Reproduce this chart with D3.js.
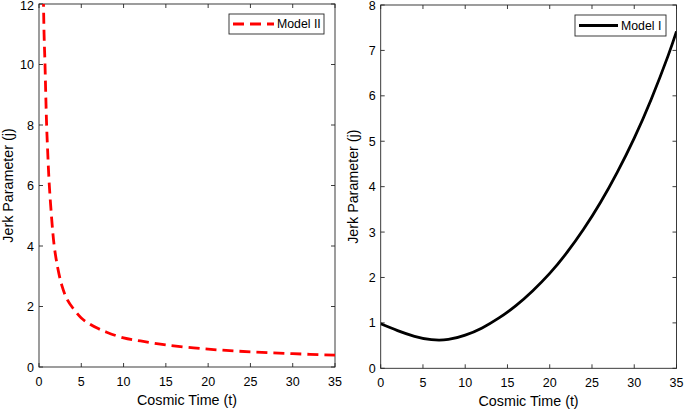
<!DOCTYPE html>
<html>
<head>
<meta charset="utf-8">
<script src="https://cdn.jsdelivr.net/npm/d3@7"></script>
<style>
  html, body { margin: 0; padding: 0; background: #fff; }
  svg { display: block; }
  text { font-family: "Liberation Sans", Arial, Helvetica, sans-serif; fill: #000; }
</style>
</head>
<body>
<svg id="chart" width="685" height="411"></svg>
<script>
// ---- Data ----
const modelIITime = [0.45, 0.6, 0.7, 0.8, 0.9, 1.0, 1.2, 1.5, 1.8, 2.2, 2.7, 3.3, 4, 5, 6, 7, 8, 10, 12, 15, 20, 25, 30, 35];
const modelIIJerk = [13.4, 11.0, 10.1, 9.0, 8.0, 7.3, 6.1, 4.9, 4.0, 3.3, 2.7, 2.25, 1.95, 1.62, 1.42, 1.27, 1.15, 0.96, 0.86, 0.73, 0.59, 0.50, 0.44, 0.39];

const modelITime = [0, 2, 4, 6, 8, 10, 12, 14, 16, 18, 20, 22, 24, 26, 28, 30, 32, 34, 35];
const modelIJerk = [0.98, 0.83, 0.705, 0.63, 0.635, 0.73, 0.89, 1.11, 1.38, 1.71, 2.09, 2.54, 3.06, 3.65, 4.32, 5.07, 5.92, 6.88, 7.42];

const xTicks = [0, 5, 10, 15, 20, 25, 30, 35];
const yTicksLeft = [0, 2, 4, 6, 8, 10, 12];
const yTicksRight = [0, 1, 2, 3, 4, 5, 6, 7, 8];

const xLabel = "Cosmic Time (t)";
const yLabel = "Jerk Parameter (j)";
const legendLeft = "Model II";
const legendRight = "Model I";

// ---- Drawing ----
const svg = d3.select("#chart");
const axisColor = "#262626";

function panel(cfg) {
  const x = d3.scaleLinear().domain([0, 35]).range([cfg.x0, cfg.x1]);
  const y = d3.scaleLinear().domain([0, cfg.yMax]).range([cfg.y0, cfg.y1]);
  const g = svg.append("g");
  const tl = 4;

  const clipId = "clip" + cfg.id;
  svg.append("defs").append("clipPath").attr("id", clipId)
    .append("rect").attr("x", cfg.x0).attr("y", cfg.y1)
    .attr("width", cfg.x1 - cfg.x0).attr("height", cfg.y0 - cfg.y1);

  g.append("rect").attr("x", cfg.x0).attr("y", cfg.y1)
    .attr("width", cfg.x1 - cfg.x0).attr("height", cfg.y0 - cfg.y1)
    .attr("fill", "none").attr("stroke", axisColor).attr("stroke-width", 0.9);

  xTicks.forEach(t => {
    const px = x(t);
    g.append("line").attr("x1", px).attr("x2", px).attr("y1", cfg.y0).attr("y2", cfg.y0 - tl)
      .attr("stroke", axisColor).attr("stroke-width", 0.9);
    g.append("line").attr("x1", px).attr("x2", px).attr("y1", cfg.y1).attr("y2", cfg.y1 + tl)
      .attr("stroke", axisColor).attr("stroke-width", 0.9);
    g.append("text").attr("x", px).attr("y", cfg.y0 + 19)
      .attr("text-anchor", "middle").attr("font-size", 12.5).text(t);
  });
  cfg.yTicks.forEach(v => {
    const py = y(v);
    g.append("line").attr("x1", cfg.x0).attr("x2", cfg.x0 + tl).attr("y1", py).attr("y2", py)
      .attr("stroke", axisColor).attr("stroke-width", 0.9);
    g.append("line").attr("x1", cfg.x1).attr("x2", cfg.x1 - tl).attr("y1", py).attr("y2", py)
      .attr("stroke", axisColor).attr("stroke-width", 0.9);
    g.append("text").attr("x", cfg.x0 - 5).attr("y", Math.max(py + 4.5, 10))
      .attr("text-anchor", "end").attr("font-size", 12.5).text(v);
  });

  g.append("text").attr("x", (cfg.x0 + cfg.x1) / 2).attr("y", cfg.y0 + 38)
    .attr("text-anchor", "middle").attr("font-size", 14.3).text(xLabel);
  g.append("text")
    .attr("transform", `translate(${cfg.ylx},${(cfg.y0 + cfg.y1) / 2}) rotate(-90)`)
    .attr("text-anchor", "middle").attr("font-size", 14.3).text(yLabel);

  const pts = cfg.tx.map((t, i) => [t, cfg.jy[i]]);
  const line = d3.line().x(d => x(d[0])).y(d => y(d[1])).curve(cfg.curve);
  g.append("path").datum(pts).attr("d", line)
    .attr("clip-path", `url(#${clipId})`)
    .attr("fill", "none").attr("stroke", cfg.color).attr("stroke-width", cfg.sw)
    .attr("stroke-dasharray", cfg.dash || null);

  const L = cfg.legend;
  g.append("rect").attr("x", L.x).attr("y", L.y).attr("width", L.w).attr("height", L.h)
    .attr("fill", "#fff").attr("stroke", axisColor).attr("stroke-width", 0.9);
  g.append("line").attr("x1", L.x + 4).attr("x2", L.x + L.lw).attr("y1", L.y + L.h / 2).attr("y2", L.y + L.h / 2)
    .attr("stroke", cfg.color).attr("stroke-width", cfg.sw).attr("stroke-dasharray", cfg.dash || null);
  g.append("text").attr("x", L.x + L.lw + 3).attr("y", L.y + L.h / 2 + 4.4)
    .attr("font-size", 12.3).text(L.text);
}

panel({
  id: "L", x0: 39, x1: 335, y0: 367, y1: 4, yMax: 12, yTicks: yTicksLeft, ylx: 13,
  tx: modelIITime, jy: modelIIJerk, color: "#ff0000", sw: 2.8, dash: "11,6",
  curve: d3.curveCatmullRom.alpha(0.5),
  legend: { x: 229, y: 14, w: 95, h: 20, lw: 45, text: legendLeft }
});
panel({
  id: "R", x0: 380.7, x1: 676.5, y0: 368.3, y1: 5, yMax: 8, yTicks: yTicksRight, ylx: 358,
  tx: modelITime, jy: modelIJerk, color: "#000000", sw: 2.8,
  curve: d3.curveNatural,
  legend: { x: 575, y: 15, w: 91, h: 21, lw: 43, text: legendRight }
});
</script>
</body>
</html>
